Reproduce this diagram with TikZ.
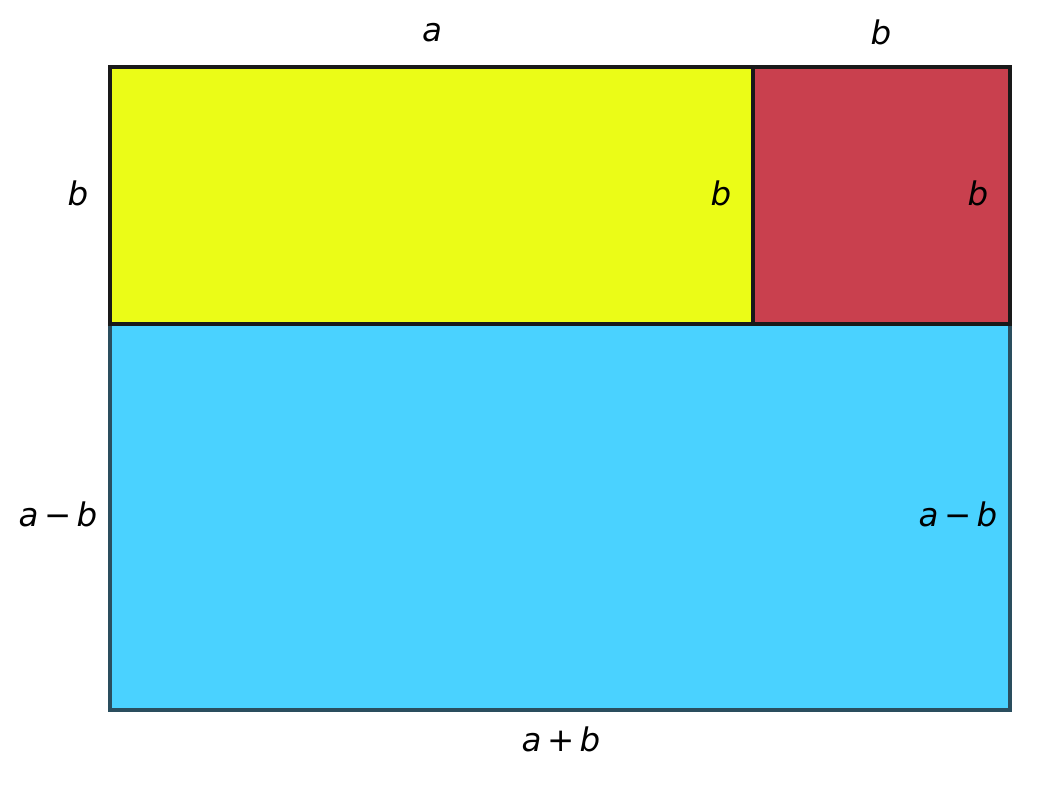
\documentclass[tikz,border=0pt]{standalone}
\usepackage{fontspec}
\setmainfont{DejaVu Sans}
\usepackage{xcolor}
\usetikzlibrary{positioning}

\definecolor{yellowbox}{HTML}{EBFC17}
\definecolor{redbox}{HTML}{C9404E}
\definecolor{bluebox}{HTML}{4AD2FF}
\definecolor{blueedge}{HTML}{2A4E5E}

\begin{document}
\begin{tikzpicture}[
  x=0.0254cm, y=-0.0254cm,
  lbl/.style={inner sep=0pt, font=\fontsize{23.5}{28}\selectfont},
  box/.style={line width=2.4pt}
]
\useasboundingbox (0,0) rectangle (1061,793);
% the three areas
\filldraw[box, fill=bluebox, draw=blueedge] (110,324) rectangle (1010,710);
\filldraw[box, fill=yellowbox, draw=black!90] (110,67) rectangle (753,324);
\filldraw[box, fill=redbox, draw=black!90] (753,67) rectangle (1010,324);
% side lengths
\node[lbl] (topA) at (432,33) {\textit{a}};
\node[lbl] (topB) at (881,32) {\textit{b}};
\node[lbl] (leftB) at (78,193) {\textit{b}};
\node[lbl] (midB) at (721,193) {\textit{b}};
\node[lbl] (rightB) at (978,193) {\textit{b}};
\node[lbl] (leftAB) at (58,514) {\textit{a}\,−\,\textit{b}};
\node[lbl] (rightAB) at (958,514) {\textit{a}\,−\,\textit{b}};
\node[lbl] (botAB) at (561,739) {\textit{a}\,+\,\textit{b}};
\end{tikzpicture}
\end{document}
